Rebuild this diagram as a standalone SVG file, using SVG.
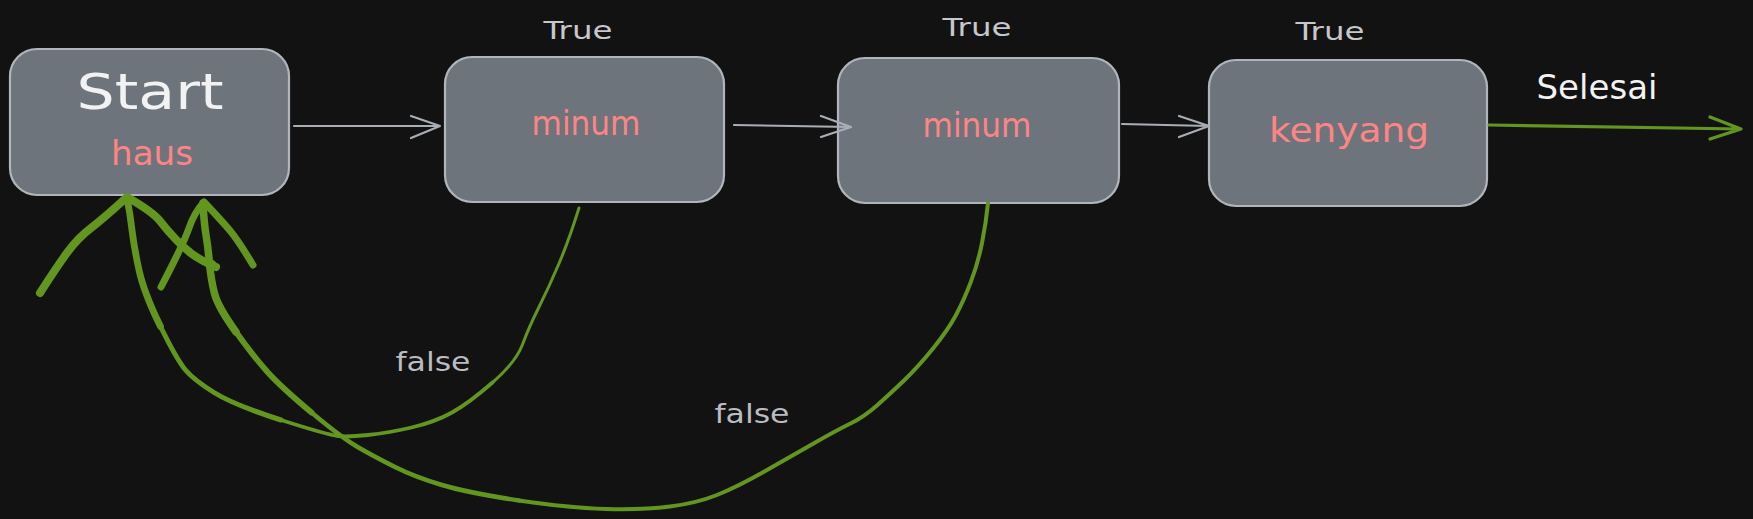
<svg xmlns="http://www.w3.org/2000/svg" width="1753" height="519" viewBox="0 0 1753 519">
<defs>
<style>
.box{fill:#6d747c;stroke:#b0b5bb;stroke-width:2.2}
.t{font-family:"DejaVu Sans","Liberation Sans",sans-serif;text-anchor:middle}
.pink{fill:#ff8585;font-size:33px}
.lbl{fill:#c6c8cb;font-size:25px}
.fl{fill:#b9bcc0;font-size:27px}
.gray{fill:none;stroke:#a9aeb5;stroke-width:2.2;stroke-linecap:round;stroke-linejoin:round}
.g{fill:none;stroke:#62961f;stroke-linecap:round;stroke-linejoin:round}
</style>
</defs>
<rect width="1753" height="519" fill="#121212"/>

<g id="node-start">
<rect class="box" x="10" y="49" width="279" height="146" rx="27"/>
<text class="t" x="150" y="109" font-size="50" fill="#f2f2f2" textLength="147" lengthAdjust="spacingAndGlyphs">Start</text>
<text class="t pink" x="152" y="165" textLength="82" lengthAdjust="spacingAndGlyphs">haus</text>
</g>

<g id="node-minum1">
<rect class="box" x="445" y="57" width="279" height="145" rx="27"/>
<text class="t pink" x="586" y="135" textLength="109" lengthAdjust="spacingAndGlyphs">minum</text>
</g>

<g id="node-minum2">
<rect class="box" x="838" y="58" width="281" height="145" rx="27"/>
<text class="t pink" x="977" y="137" textLength="109" lengthAdjust="spacingAndGlyphs">minum</text>
</g>

<g id="node-kenyang">
<rect class="box" x="1209" y="60" width="278" height="146" rx="27"/>
<text class="t pink" x="1349" y="142" font-size="36" textLength="160" lengthAdjust="spacingAndGlyphs">kenyang</text>
</g>

<g id="labels">
<text class="t lbl" x="578" y="39" textLength="69" lengthAdjust="spacingAndGlyphs">True</text>
<text class="t lbl" x="977" y="36" textLength="69" lengthAdjust="spacingAndGlyphs">True</text>
<text class="t lbl" x="1330" y="40" textLength="69" lengthAdjust="spacingAndGlyphs">True</text>
<text class="t" x="1597" y="99" font-size="33" fill="#f2f2f2" textLength="121" lengthAdjust="spacingAndGlyphs">Selesai</text>
<text class="t fl" x="433" y="371" textLength="75" lengthAdjust="spacingAndGlyphs">false</text>
<text class="t fl" x="752" y="423" textLength="75" lengthAdjust="spacingAndGlyphs">false</text>
</g>

<g id="connectors">
<path class="gray" d="M294 126 L440 126 M411 116 L440 126 L411 138"/>
<path class="gray" d="M734 125 L851 127 M821 116 L851 127 L821 137"/>
<path class="gray" d="M1122 124 L1209 126 M1179 116 L1209 126 L1179 137"/>
<path class="g" stroke-width="3.2" d="M1489 125 L1741 129 M1710 117 L1741 129 L1710 139"/>

<!-- false: minum1 back to Start -->
<path class="g" stroke-width="3" d="M579,208 Q569,240 559,263.5 Q549,287 539,307 Q529,327 522.5,344.5 Q516,362 492.5,382.5"/>
<path class="g" stroke-width="3.8" d="M492.5,382.5 Q469,403 452,412.5 Q435,422 411.5,427.5 Q388,433 368,435 Q348,437 338,436 Q328,435 281,420"/>
<path class="g" stroke-width="5" d="M281,420 Q234,405 214,392.5 Q194,380 185.5,370 Q177,360 160.5,326.5"/>
<path class="g" stroke-width="6.8" d="M160.5,326.5 Q144,293 139,270 Q134,247 132,230 Q130,213 127,198"/>

<!-- false: minum2 back to Start -->
<path class="g" stroke-width="4" d="M988,203 Q986,223 982,243 Q978,263 971,281.5 Q964,300 956,315 Q948,330 933,348.5 Q918,367 904.5,380 Q891,393 877.5,405 Q864,417 850.5,423.5 Q837,430 813.5,443.5 Q790,457 763.5,472 Q737,487 717,495 Q697,503 670,506.5 Q643,510 606,509 Q569,508 519,500.5"/>
<path class="g" stroke-width="4.5" d="M519,500.5 Q469,493 442,485 Q415,477 395,467 Q375,457 358.5,447.5 Q342,438 311.5,412.5"/>
<path class="g" stroke-width="5.8" d="M311.5,412.5 Q281,387 267.5,372 Q254,357 236,332"/>
<path class="g" stroke-width="7.5" d="M236,332 Q218,307 214.5,293.5 Q211,280 209.5,263.5 Q208,247 206,235 Q204,223 203,203"/>

<!-- arrowheads -->
<path class="g" stroke-width="8" d="M40,293 Q58,265 68,251.5 Q78,238 91,228 Q104,218 127,197 Q153,212 160,221 Q167,230 175.5,239 Q184,248 192,254 Q200,260 216,267"/>
<path class="g" stroke-width="7" d="M161,287 Q184,243 189,228 Q194,213 204,202 Q221,220 229.5,230 Q238,240 253,265"/>
<circle cx="211" cy="265" r="5.5" fill="#62961f"/>
</g>
</svg>
